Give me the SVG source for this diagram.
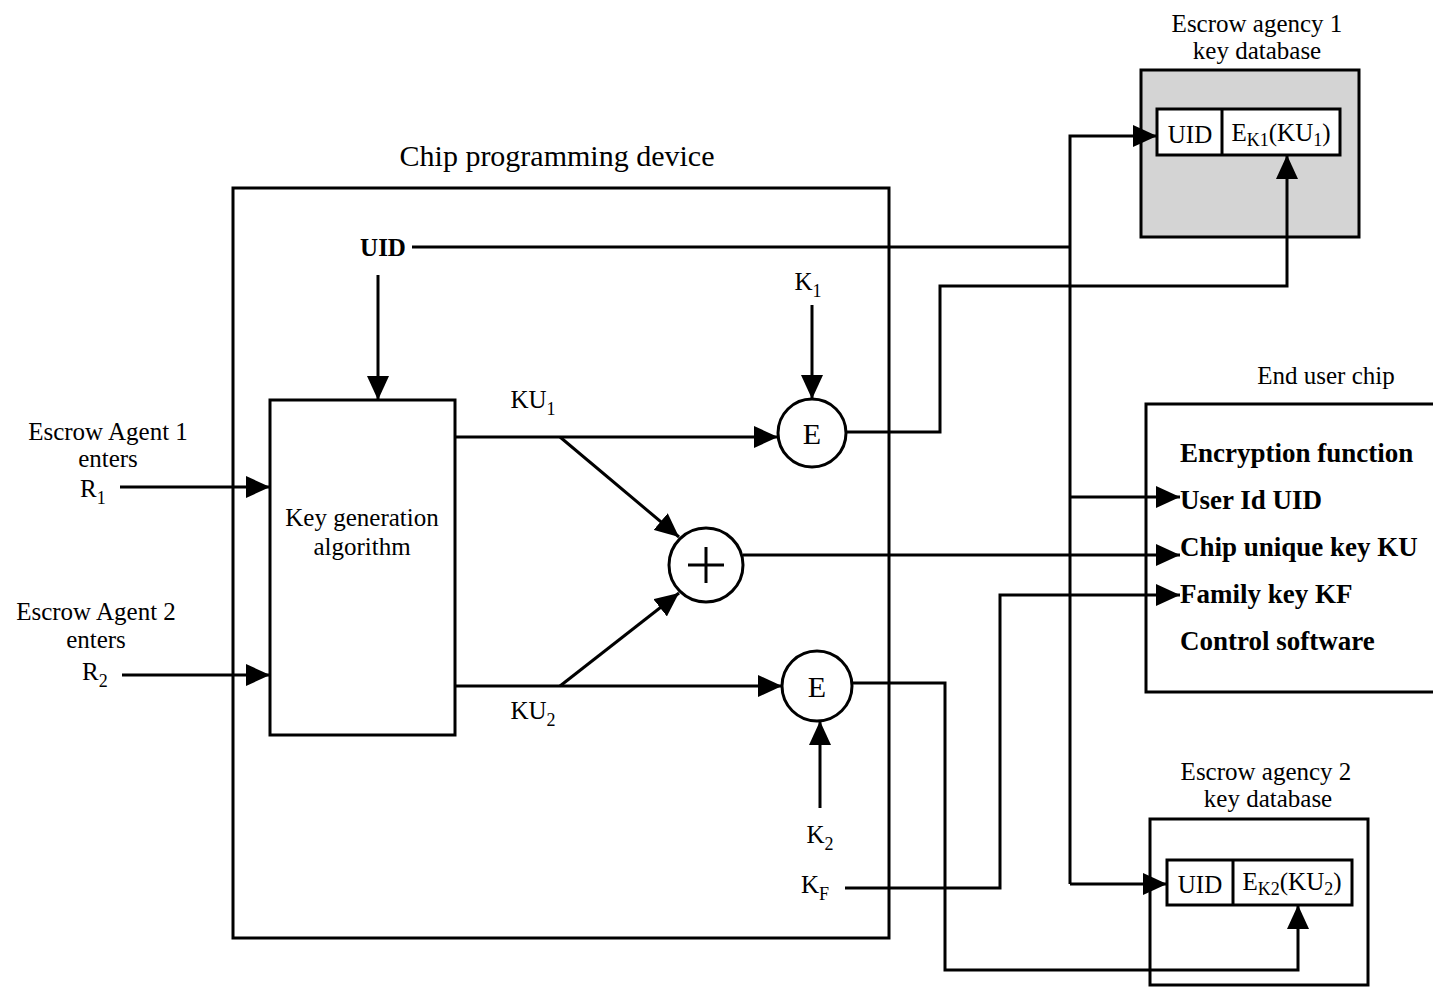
<svg xmlns="http://www.w3.org/2000/svg" width="1433" height="989" viewBox="0 0 1433 989">
<defs>
<marker id="ahl" viewBox="0 0 10 10" refX="10" refY="5" markerWidth="24" markerHeight="22" markerUnits="userSpaceOnUse" orient="auto" preserveAspectRatio="none">
<path d="M0,0 L10,5 L0,10 z" fill="#000"/>
</marker>
</defs>
<style>
text{font-family:"Liberation Serif",serif;fill:#000}
.lbl{font-size:25px}
.sub{font-size:18px}
.big{font-size:30px}
.chip{font-size:27px;font-weight:bold}
.box{fill:#fff;stroke:#000;stroke-width:3}
.shade{fill:#d4d4d4;stroke:#000;stroke-width:3}
.open{fill:none;stroke:#000;stroke-width:3}
.ln{fill:none;stroke:#000;stroke-width:3}
.ar{fill:none;stroke:#000;stroke-width:3;marker-end:url(#ahl)}
</style>
<rect width="1433" height="989" fill="#fff"/>

<g id="chip-programming-device">
<rect x="233" y="188" width="656" height="750" class="box"/>
<text x="557" y="166" class="big" text-anchor="middle">Chip programming device</text>
<text x="383" y="256" class="lbl" font-weight="bold" text-anchor="middle">UID</text>
</g>

<g id="key-generation">
<rect x="270" y="400" width="185" height="335" class="box"/>
<text x="362" y="526" class="lbl" text-anchor="middle">Key generation</text>
<text x="362" y="555" class="lbl" text-anchor="middle">algorithm</text>
</g>

<g id="agent1">
<text x="108" y="440" class="lbl" text-anchor="middle">Escrow Agent 1</text>
<text x="108" y="467" class="lbl" text-anchor="middle">enters</text>
<text x="80" y="497" class="lbl">R<tspan class="sub" dy="7">1</tspan></text>
</g>
<g id="agent2">
<text x="96" y="620" class="lbl" text-anchor="middle">Escrow Agent 2</text>
<text x="96" y="648" class="lbl" text-anchor="middle">enters</text>
<text x="82" y="680" class="lbl">R<tspan class="sub" dy="7">2</tspan></text>
</g>

<g id="E1">
<circle cx="812" cy="433" r="34" class="box"/>
<text x="812" y="444" class="big" text-anchor="middle">E</text>
</g>
<g id="E2">
<circle cx="817" cy="686" r="35" class="box"/>
<text x="817" y="697" class="big" text-anchor="middle">E</text>
</g>
<g id="xor">
<circle cx="706" cy="565" r="37" class="box"/>
<path d="M706,547 V583 M688,565 H724" class="ln"/>
</g>

<g id="labels">
<text x="533" y="408" class="lbl" text-anchor="middle">KU<tspan class="sub" dy="7">1</tspan></text>
<text x="533" y="719" class="lbl" text-anchor="middle">KU<tspan class="sub" dy="7">2</tspan></text>
<text x="808" y="290" class="lbl" text-anchor="middle">K<tspan class="sub" dy="7">1</tspan></text>
<text x="820" y="843" class="lbl" text-anchor="middle">K<tspan class="sub" dy="7">2</tspan></text>
<text x="815" y="893" class="lbl" text-anchor="middle">K<tspan class="sub" dy="7">F</tspan></text>
</g>

<g id="escrow-agency-1">
<text x="1257" y="32" class="lbl" text-anchor="middle">Escrow agency 1</text>
<text x="1257" y="59" class="lbl" text-anchor="middle">key database</text>
<rect x="1141" y="70" width="218" height="167" class="shade"/>
<rect x="1157" y="109" width="183" height="46" class="box"/>
<line x1="1222" y1="109" x2="1222" y2="155" class="ln"/>
<text x="1190" y="143" class="lbl" text-anchor="middle">UID</text>
<text x="1281" y="141" class="lbl" text-anchor="middle">E<tspan class="sub" dy="5">K1</tspan><tspan dy="-5">(KU</tspan><tspan class="sub" dy="5">1</tspan><tspan dy="-5">)</tspan></text>
</g>

<g id="end-user-chip">
<text x="1326" y="384" class="lbl" text-anchor="middle">End user chip</text>
<path d="M1440,404 H1146 V692 H1440" class="open"/>
<text x="1180" y="462" class="chip">Encryption function</text>
<text x="1180" y="509" class="chip">User Id UID</text>
<text x="1180" y="556" class="chip">Chip unique key KU</text>
<text x="1180" y="603" class="chip">Family key KF</text>
<text x="1180" y="650" class="chip">Control software</text>
</g>

<g id="escrow-agency-2">
<text x="1266" y="780" class="lbl" text-anchor="middle">Escrow agency 2</text>
<text x="1268" y="807" class="lbl" text-anchor="middle">key database</text>
<rect x="1150" y="819" width="218" height="166" class="box"/>
<rect x="1167" y="860" width="185" height="45" class="box"/>
<line x1="1233" y1="860" x2="1233" y2="905" class="ln"/>
<text x="1200" y="893" class="lbl" text-anchor="middle">UID</text>
<text x="1292" y="890" class="lbl" text-anchor="middle">E<tspan class="sub" dy="5">K2</tspan><tspan dy="-5">(KU</tspan><tspan class="sub" dy="5">2</tspan><tspan dy="-5">)</tspan></text>
</g>

<g id="connectors">
<path d="M412,247 H1070" class="ln"/>
<path d="M1070,884 V136 H1157" class="ar"/>
<path d="M1070,884 H1167" class="ar"/>
<path d="M1070,497 H1180" class="ar"/>
<path d="M378,275 V400" class="ar"/>
<path d="M120,487 H270" class="ar"/>
<path d="M122,675 H270" class="ar"/>
<path d="M455,437 H778" class="ar"/>
<path d="M455,686 H782" class="ar"/>
<path d="M560,437 L679,537" class="ar"/>
<path d="M560,686 L679,593" class="ar"/>
<path d="M812,305 V399" class="ar"/>
<path d="M820,808 V721" class="ar"/>
<path d="M743,555 H1180" class="ar"/>
<path d="M846,432 H940 V286 H1287 V155" class="ar"/>
<path d="M852,683 H945 V970 H1298 V905" class="ar"/>
<path d="M845,888 H1000 V595 H1180" class="ar"/>
</g>
</svg>
